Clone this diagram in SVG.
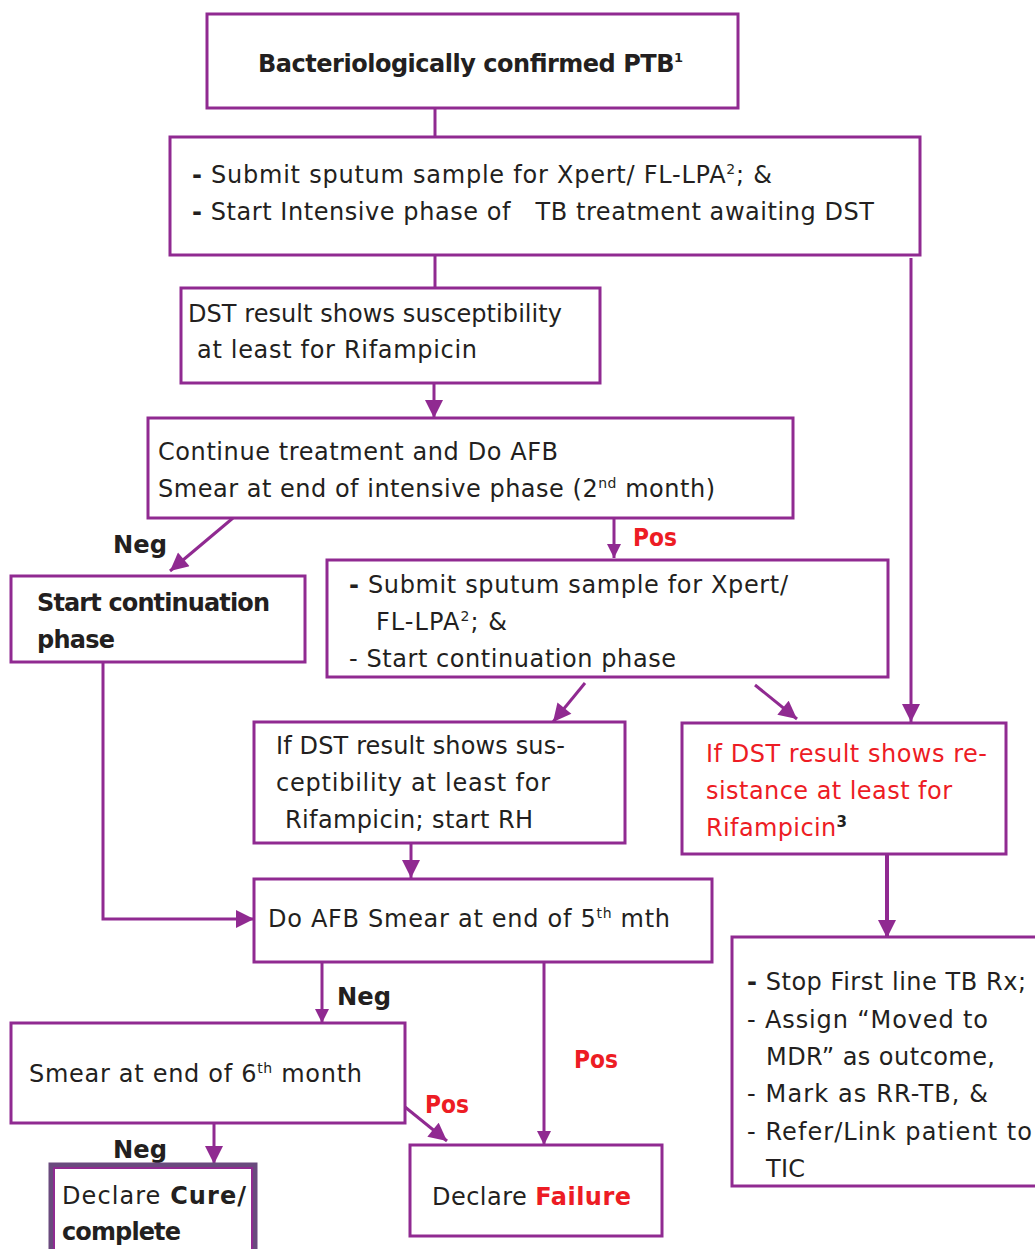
<svg xmlns="http://www.w3.org/2000/svg" width="1035" height="1249" viewBox="0 0 1035 1249">
<defs>
<style>
.box{fill:#fff;stroke:#902A91;stroke-width:3}
.t{font-family:"DejaVu Sans","Liberation Sans",sans-serif;font-size:24px;fill:#231F20}
.b{font-weight:bold}
.red{fill:#ED1C24}
.lbl{font-family:"DejaVu Sans","Liberation Sans",sans-serif;font-size:25px;font-weight:bold}
.c{fill:none;stroke:#902A91;stroke-width:3}
</style>
<marker id="ah" viewBox="0 0 10 10" refX="10" refY="5" markerWidth="20" markerHeight="18" markerUnits="userSpaceOnUse" orient="auto"><path d="M0,0 L10,5 L0,10 z" fill="#902A91"/></marker>
<marker id="ahs" viewBox="0 0 10 10" refX="10" refY="5" markerWidth="14" markerHeight="14" markerUnits="userSpaceOnUse" orient="auto"><path d="M0,0 L10,5 L0,10 z" fill="#902A91"/></marker>
<marker id="ahl" viewBox="0 0 10 10" refX="10" refY="5" markerWidth="34" markerHeight="14" markerUnits="userSpaceOnUse" orient="auto"><path d="M0,0 L10,5 L0,10 z" fill="#902A91"/></marker>
</defs>

<g id="connectors">
<line class="c" x1="435" y1="108" x2="435" y2="137"/>
<line class="c" x1="435" y1="255" x2="435" y2="288"/>
<line class="c" x1="434" y1="383" x2="434" y2="418" marker-end="url(#ah)"/>
<line class="c" x1="614" y1="518" x2="614" y2="558" marker-end="url(#ahs)"/>
<line class="c" x1="233" y1="518" x2="170" y2="571" marker-end="url(#ah)"/>
<line class="c" x1="585" y1="683" x2="553" y2="722" marker-end="url(#ah)"/>
<line class="c" x1="755" y1="685" x2="797" y2="719" marker-end="url(#ah)"/>
<line class="c" x1="911" y1="258" x2="911" y2="722" marker-end="url(#ah)"/>
<line class="c" x1="411" y1="843" x2="411" y2="878" marker-end="url(#ah)"/>
<polyline class="c" points="103,662 103,919 254,919" marker-end="url(#ah)"/>
<line class="c" style="stroke-width:4" x1="887" y1="854" x2="887" y2="938" marker-end="url(#ah)"/>
<line class="c" x1="322" y1="962" x2="322" y2="1023" marker-end="url(#ahs)"/>
<line class="c" x1="544" y1="962" x2="544" y2="1145" marker-end="url(#ahl)"/>
<line class="c" x1="214" y1="1123" x2="214" y2="1164" marker-end="url(#ah)"/>
<line class="c" x1="405" y1="1107" x2="447" y2="1141" marker-end="url(#ah)"/>
<text class="lbl" x="113" y="553" fill="#231F20" textLength="54" lengthAdjust="spacingAndGlyphs">Neg</text>
<text class="lbl" x="633" y="546" fill="#ED1C24" textLength="44" lengthAdjust="spacingAndGlyphs">Pos</text>
<text class="lbl" x="337" y="1005" fill="#231F20" textLength="54" lengthAdjust="spacingAndGlyphs">Neg</text>
<text class="lbl" x="574" y="1068" fill="#ED1C24" textLength="44" lengthAdjust="spacingAndGlyphs">Pos</text>
<text class="lbl" x="425" y="1113" fill="#ED1C24" textLength="44" lengthAdjust="spacingAndGlyphs">Pos</text>
<text class="lbl" x="113" y="1158" fill="#231F20" textLength="54" lengthAdjust="spacingAndGlyphs">Neg</text>
</g>

<g id="n1">
<rect class="box" x="207" y="14" width="531" height="94"/>
<text class="t b" x="258" y="72" font-size="22" textLength="425">Bacteriologically confirmed PTB<tspan font-size="13" dy="-10">1</tspan></text>
</g>

<g id="n2">
<rect class="box" x="170" y="137" width="750" height="118"/>
<text class="t" x="192" y="183" textLength="580"><tspan class="b">-</tspan> Submit sputum sample for Xpert/ FL-LPA<tspan font-size="14" dy="-9">2</tspan><tspan dy="9">; &amp;</tspan></text>
<text class="t" x="192" y="220" textLength="682" xml:space="preserve"><tspan class="b">-</tspan> Start Intensive phase of   TB treatment awaiting DST</text>
</g>

<g id="n3">
<rect class="box" x="181" y="288" width="419" height="95"/>
<text class="t" x="188" y="322" textLength="374">DST result shows susceptibility</text>
<text class="t" x="197" y="358" textLength="280">at least for Rifampicin</text>
</g>

<g id="n4">
<rect class="box" x="148" y="418" width="645" height="100"/>
<text class="t" x="158" y="460" textLength="400">Continue treatment and Do AFB</text>
<text class="t" x="158" y="497" textLength="557">Smear at end of intensive phase (2<tspan font-size="14" dy="-9">nd</tspan><tspan dy="9"> month)</tspan></text>
</g>

<g id="n5">
<rect class="box" x="11" y="576" width="294" height="86"/>
<text class="t b" x="37" y="611" font-size="23" textLength="233">Start continuation</text>
<text class="t b" x="37" y="648" font-size="23" textLength="78">phase</text>
</g>

<g id="n6">
<rect class="box" x="327" y="560" width="561" height="117"/>
<text class="t" x="349" y="593" textLength="439"><tspan class="b">-</tspan> Submit sputum sample for Xpert/</text>
<text class="t" x="376" y="630" textLength="131">FL-LPA<tspan font-size="14" dy="-9">2</tspan><tspan dy="9">; &amp;</tspan></text>
<text class="t" x="349" y="667" textLength="327">- Start continuation phase</text>
</g>

<g id="n7">
<rect class="box" x="254" y="722" width="371" height="121"/>
<text class="t" x="276" y="754" textLength="289">If DST result shows sus-</text>
<text class="t" x="276" y="791" textLength="274">ceptibility at least for</text>
<text class="t" x="285" y="828" textLength="248">Rifampicin; start RH</text>
</g>

<g id="n8">
<rect class="box" x="682" y="723" width="324" height="131"/>
<text class="t red" x="706" y="762" textLength="281">If DST result shows re-</text>
<text class="t red" x="706" y="799" textLength="246">sistance at least for</text>
<text class="t red" x="706" y="836" textLength="141">Rifampicin<tspan class="b" style="fill:#231F20" font-size="15" dy="-9">3</tspan></text>
</g>

<g id="n9">
<rect class="box" x="254" y="879" width="458" height="83"/>
<text class="t" x="268" y="927" textLength="402">Do AFB Smear at end of 5<tspan font-size="14" dy="-9">th</tspan><tspan dy="9"> mth</tspan></text>
</g>

<g id="n10">
<rect class="box" x="732" y="937" width="310" height="249"/>
<text class="t" x="747" y="990" textLength="279"><tspan class="b">-</tspan> Stop First line TB Rx;</text>
<text class="t" x="747" y="1028" textLength="241">- Assign “Moved to</text>
<text class="t" x="766" y="1065" textLength="229">MDR” as outcome,</text>
<text class="t" x="747" y="1102" textLength="241">- Mark as RR-TB, &amp;</text>
<text class="t" x="747" y="1140" textLength="285">- Refer/Link patient to</text>
<text class="t" x="766" y="1177" textLength="39">TIC</text>
</g>

<g id="n11">
<rect class="box" x="11" y="1023" width="394" height="100"/>
<text class="t" x="29" y="1082" textLength="333">Smear at end of 6<tspan font-size="14" dy="-9">th</tspan><tspan dy="9"> month</tspan></text>
</g>

<g id="n12">
<rect x="51" y="1165" width="204" height="100" fill="#fff" stroke="#6A4A7E" stroke-width="5"/>
<rect x="54" y="1168" width="198" height="94" fill="none" stroke="#902A91" stroke-width="2"/>
<text class="t" x="62" y="1204" textLength="184">Declare <tspan class="b">Cure/</tspan></text>
<text class="t b" x="62" y="1240" font-size="23" textLength="119">complete</text>
</g>

<g id="n13">
<rect class="box" x="410" y="1145" width="252" height="91"/>
<text class="t" x="432" y="1205" textLength="199">Declare <tspan class="b red">Failure</tspan></text>
</g>
</svg>
